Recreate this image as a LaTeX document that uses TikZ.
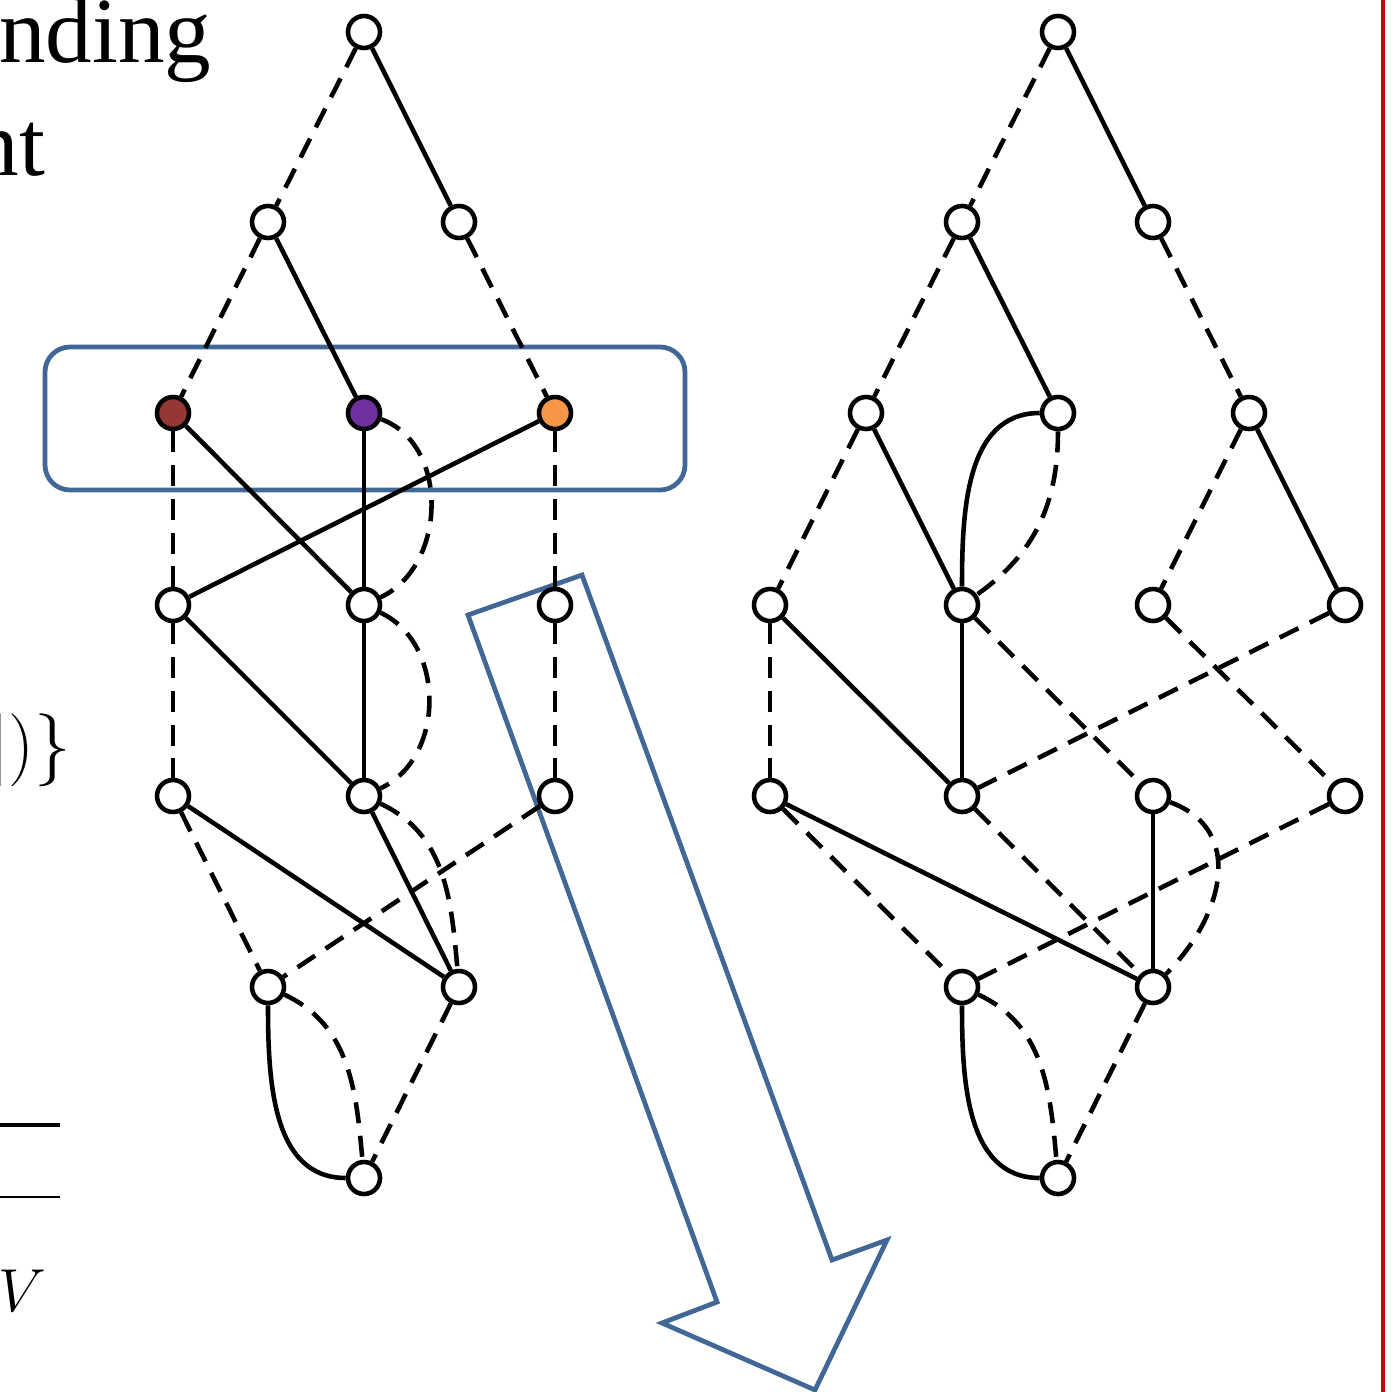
\documentclass[tikz,border=0pt]{standalone}
\usepackage{fontspec}
\newfontfamily\timesfont{Liberation Serif}
\usetikzlibrary{positioning}
\definecolor{boxblue}{RGB}{65,103,150}
\definecolor{nbrown}{RGB}{149,55,53}
\definecolor{npurple}{RGB}{112,48,160}
\definecolor{norange}{RGB}{247,150,70}
\definecolor{rulered}{RGB}{200,8,8}

\begin{document}
\begin{tikzpicture}[vtx/.style={circle, draw, line width=1.3pt, fill=white, minimum size=0.32cm, inner sep=0pt}, sol/.style={line width=1.3pt}, dsh/.style={line width=1.3pt, dash pattern=on 6pt off 3.6pt}, blueline/.style={draw=boxblue, line width=1.35pt}, txt/.style={inner sep=0pt}]
\useasboundingbox (0,0) rectangle (14,-13.92);
% selection box and the big arrow
\draw[blueline, rounded corners=0.25cm] (0.45,-3.47) rectangle (6.85,-4.90);
\draw[blueline, line join=miter] (4.68,-6.15) -- (5.82,-5.75) -- (8.32,-12.60) -- (8.87,-12.40) -- (8.15,-13.90) -- (6.62,-13.23) -- (7.17,-13.02) -- cycle;
\draw[rulered, line width=1.4pt] (13.83,0.1) -- (13.83,-14.0);
% cut-off text on the left
\node[txt, anchor=base east, font=\fontsize{26.5}{30}\timesfont] (head1) at (2.12,-0.63) {nding};
\node[txt, anchor=base east, font=\fontsize{26.5}{30}\timesfont] (head2) at (0.46,-1.76) {nt};
\node[txt, anchor=base east, font=\fontsize{20}{24}\selectfont] (setend) at (0.72,-7.68) {$])\}$};
\draw[line width=1.1pt] (0,-11.25) -- (0.6,-11.25); \draw[line width=0.6pt] (0,-11.97) -- (0.6,-11.97);
\node[txt, anchor=base west, font=\fontsize{16.5}{19}\selectfont] (vset) at (-0.02,-13.11) {$V$};
% left diagram
\node[vtx] (l0) at (3.64,-0.32) {};
\node[vtx] (l1a) at (2.68,-2.22) {}; \node[vtx] (l1b) at (4.59,-2.22) {};
\node[vtx, fill=nbrown] (l2a) at (1.73,-4.13) {}; \node[vtx, fill=npurple] (l2b) at (3.64,-4.13) {}; \node[vtx, fill=norange] (l2c) at (5.55,-4.13) {};
\node[vtx] (l3a) at (1.73,-6.05) {}; \node[vtx] (l3b) at (3.64,-6.05) {}; \node[vtx] (l3c) at (5.55,-6.05) {};
\node[vtx] (l4a) at (1.73,-7.96) {}; \node[vtx] (l4b) at (3.64,-7.96) {}; \node[vtx] (l4c) at (5.55,-7.96) {};
\node[vtx] (l5a) at (2.68,-9.87) {}; \node[vtx] (l5b) at (4.59,-9.87) {};
\node[vtx] (l6) at (3.64,-11.78) {};
\draw[dsh] (l0)--(l1a); \draw[sol] (l0)--(l1b);
\draw[dsh] (l1a)--(l2a); \draw[sol] (l1a)--(l2b); \draw[dsh] (l1b)--(l2c);
\draw[dsh] (l2a)--(l3a); \draw[sol] (l2a)--(l3b); \draw[sol] (l2b)--(l3b); \draw[dsh] (l2b) to[out=-20,in=25,looseness=1.05] (l3b); \draw[sol] (l2c)--(l3a); \draw[dsh] (l2c)--(l3c);
\draw[dsh] (l3a)--(l4a); \draw[sol] (l3a)--(l4b); \draw[sol] (l3b)--(l4b); \draw[dsh] (l3b) to[out=-25,in=25,looseness=1.05] (l4b); \draw[dsh] (l3c)--(l4c);
\draw[dsh] (l4a)--(l5a); \draw[sol] (l4a)--(l5b); \draw[sol] (l4b)--(l5b); \draw[dsh] (l4b) to[out=-25,in=95] (l5b); \draw[dsh] (l4c)--(l5a);
\draw[sol] (l5a) to[out=-90,in=180] (l6); \draw[dsh] (l5a) to[out=-25,in=95] (l6); \draw[dsh] (l5b)--(l6);
% right diagram
\node[vtx] (r0) at (10.58,-0.32) {};
\node[vtx] (r1a) at (9.62,-2.22) {}; \node[vtx] (r1b) at (11.53,-2.22) {};
\node[vtx] (r2a) at (8.66,-4.13) {}; \node[vtx] (r2b) at (10.58,-4.13) {}; \node[vtx] (r2c) at (12.49,-4.13) {};
\node[vtx] (r3a) at (7.70,-6.05) {}; \node[vtx] (r3b) at (9.62,-6.05) {}; \node[vtx] (r3c) at (11.53,-6.05) {}; \node[vtx] (r3d) at (13.45,-6.05) {};
\node[vtx] (r4a) at (7.70,-7.96) {}; \node[vtx] (r4b) at (9.62,-7.96) {}; \node[vtx] (r4c) at (11.53,-7.96) {}; \node[vtx] (r4d) at (13.45,-7.96) {};
\node[vtx] (r5a) at (9.62,-9.87) {}; \node[vtx] (r5b) at (11.53,-9.87) {};
\node[vtx] (r6) at (10.58,-11.78) {};
\draw[dsh] (r0)--(r1a); \draw[sol] (r0)--(r1b);
\draw[dsh] (r1a)--(r2a); \draw[sol] (r1a)--(r2b); \draw[dsh] (r1b)--(r2c);
\draw[dsh] (r2a)--(r3a); \draw[sol] (r2a)--(r3b); \draw[sol] (r2b) to[out=180,in=90] (r3b); \draw[dsh] (r2b) to[out=-90,in=35] (r3b); \draw[dsh] (r2c)--(r3c); \draw[sol] (r2c)--(r3d);
\draw[dsh] (r3a)--(r4a); \draw[sol] (r3a)--(r4b); \draw[sol] (r3b)--(r4b); \draw[dsh] (r3b)--(r4c); \draw[dsh] (r3c)--(r4d); \draw[dsh] (r3d)--(r4b);
\draw[dsh] (r4a)--(r5a); \draw[sol] (r4a)--(r5b); \draw[dsh] (r4b)--(r5b); \draw[sol] (r4c)--(r5b); \draw[dsh] (r4c) to[out=-20,in=45,looseness=1.2] (r5b); \draw[dsh] (r4d)--(r5a);
\draw[sol] (r5a) to[out=-90,in=180] (r6); \draw[dsh] (r5a) to[out=-25,in=95] (r6); \draw[dsh] (r5b)--(r6);
\end{tikzpicture}
\end{document}
